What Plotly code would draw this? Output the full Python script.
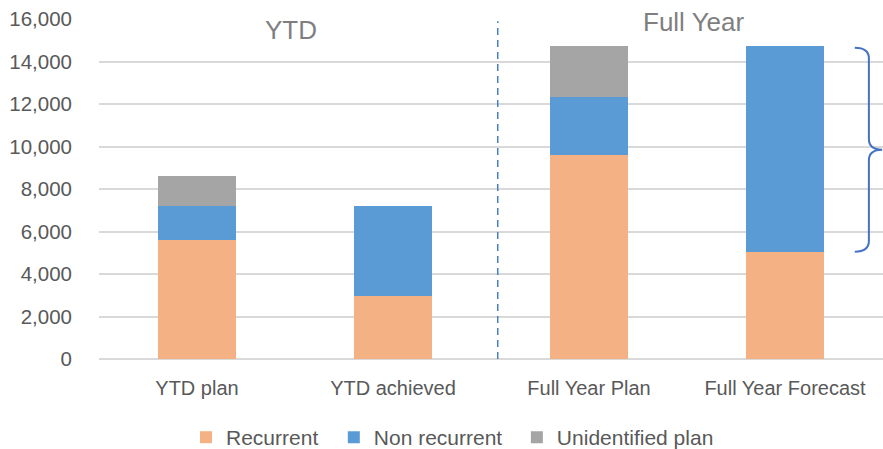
import plotly.graph_objects as go

# Categories and stacked series values
categories = ["YTD plan", "YTD achieved", "Full Year Plan", "Full Year Forecast"]
recurrent = [5600, 2950, 9600, 5050]
non_recurrent = [1600, 4250, 2750, 9700]
unidentified_plan = [1400, 0, 2400, 0]

y_tick_values = [0, 2000, 4000, 6000, 8000, 10000, 12000, 14000, 16000]
y_tick_labels = ["0", "2,000", "4,000", "6,000", "8,000", "10,000", "12,000", "14,000", "16,000"]

# Bracket spanning the non-recurrent part of the forecast
forecast_top = recurrent[3] + non_recurrent[3]
forecast_base = recurrent[3]

font_family = "Liberation Sans, Arial"
x_font = dict(family=font_family, size=20, color="#595959")
y_font = dict(family=font_family, size=20.5, color="#595959")
legend_font = dict(family=font_family, size=21, color="#595959")

fig = go.Figure()
fig.add_trace(go.Bar(name="Recurrent", x=categories, y=recurrent,
                     marker_color="#F4B183", legend="legend"))
fig.add_trace(go.Bar(name="Non recurrent", x=categories, y=non_recurrent,
                     marker_color="#5B9BD5", legend="legend2"))
fig.add_trace(go.Bar(name="Unidentified plan", x=categories, y=unidentified_plan,
                     marker_color="#A5A5A5", legend="legend3"))

fig.update_traces(marker_line_width=0)

def legend_box(x):
    return dict(orientation="h", x=x, xanchor="left", y=-0.231, yanchor="middle",
                font=legend_font, itemwidth=30, bgcolor="rgba(0,0,0,0)")

fig.update_layout(
    barmode="stack",
    bargap=0.6,
    width=883,
    height=449,
    margin=dict(l=99, r=0, t=19, b=90, autoexpand=False),
    plot_bgcolor="white",
    paper_bgcolor="white",
    showlegend=True,
    legend=legend_box(0.111),
    legend2=legend_box(0.2995),
    legend3=legend_box(0.533),
    xaxis=dict(
        showgrid=False,
        showline=False,
        zeroline=False,
        tickfont=x_font,
        ticks="",
        ticklabelstandoff=15,
        automargin=False,
    ),
    yaxis=dict(
        range=[0, 16000],
        tickvals=y_tick_values,
        ticktext=y_tick_labels,
        tickfont=y_font,
        showgrid=True,
        gridcolor="#D9D9D9",
        gridwidth=1.5,
        zeroline=True,
        zerolinecolor="#D9D9D9",
        zerolinewidth=1.5,
        showline=False,
        ticks="",
        ticklabelstandoff=26,
        automargin=False,
    ),
)

# Divider between the YTD and Full Year groups
fig.add_shape(
    type="line", xref="paper", yref="y",
    x0=0.5086, x1=0.5086, y0=0, y1=15900,
    line=dict(color="#4A7EC4", width=1.5, dash="7px,5px"),
)

# Curly bracket to the right of the forecast bar
def brace_path(y_top, y_bot):
    ym = (y_top + y_bot) / 2
    xl, xv, xt = 0.964, 0.982, 0.999
    c = 500
    return (
        f"M {xl},{y_top} Q {xv},{y_top} {xv},{y_top - c} "
        f"L {xv},{ym + c} Q {xv},{ym} {xt},{ym} "
        f"Q {xv},{ym} {xv},{ym - c} "
        f"L {xv},{y_bot + c} Q {xv},{y_bot} {xl},{y_bot}"
    )

fig.add_shape(
    type="path", xref="paper", yref="y",
    path=brace_path(forecast_top - 100, forecast_base),
    line=dict(color="#4472C4", width=2),
)

section_font = dict(family=font_family, size=26, color="#7F7F7F")
fig.add_annotation(text="YTD", xref="paper", yref="paper", x=0.245, y=0.968,
                   xanchor="center", yanchor="middle", showarrow=False, font=section_font)
fig.add_annotation(text="Full Year", xref="paper", yref="paper", x=0.759, y=0.991,
                   xanchor="center", yanchor="middle", showarrow=False, font=section_font)

fig.write_html("out.html")
